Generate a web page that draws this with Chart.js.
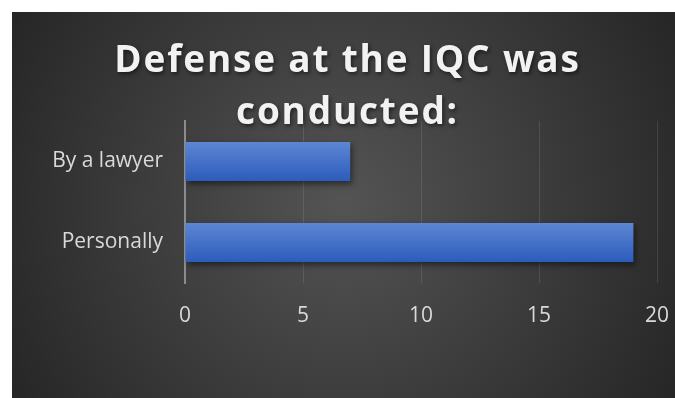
<!DOCTYPE html>
<html><head><meta charset="utf-8">
<script src="https://cdn.jsdelivr.net/npm/chart.js@4.4.0/dist/chart.umd.min.js"></script>
<style>
html,body{margin:0;padding:0;background:#fff;}
#wrap{position:absolute;left:12px;top:12px;width:663px;height:386px;background:radial-gradient(circle at 50% 50%, #545454 0%, #262626 100%);}
canvas{display:block;}
</style></head><body>
<div id="wrap"><canvas id="c" width="663" height="386"></canvas></div>
<script>
const titleLines = ['Defense at the IQC was', 'conducted:'];
const categories = ['By a lawyer', 'Personally'];
const values = [7, 19];
const xTickValues = [0, 5, 10, 15, 20];

const BAR_FRACTION = 0.48;

const titleStyle = {
  id: 'titleStyle',
  beforeDraw(chart) {
    const tb = chart.titleBlock;
    if (tb && !tb._patched) {
      const orig = tb.draw.bind(tb);
      tb.draw = function () {
        const c = chart.ctx;
        c.save();
        c.letterSpacing = '1.8px';
        c.shadowColor = 'rgba(0,0,0,0.55)';
        c.shadowBlur = 4;
        c.shadowOffsetX = 1.5;
        c.shadowOffsetY = 2;
        orig();
        c.restore();
      };
      tb._patched = true;
    }
  }
};

const barShadow = {
  id: 'barShadow',
  beforeDatasetsDraw(chart) {
    const c = chart.ctx;
    c.save();
    c.shadowColor = 'rgba(0,0,0,0.5)';
    c.shadowBlur = 6;
    c.shadowOffsetX = 2;
    c.shadowOffsetY = 3;
  },
  afterDatasetsDraw(chart) { chart.ctx.restore(); }
};

new Chart(document.getElementById('c'), {
  type: 'bar',
  data: {
    labels: categories,
    datasets: [{
      data: values,
      categoryPercentage: 1,
      barPercentage: BAR_FRACTION,
      borderWidth: 0,
      backgroundColor: (ctx) => {
        const chart = ctx.chart;
        const y = chart.scales && chart.scales.y;
        if (!y || !chart.chartArea || ctx.dataIndex === undefined) return '#4472c4';
        const c = y.getPixelForValue(ctx.dataIndex);
        const h = (y.bottom - y.top) / categories.length * BAR_FRACTION;
        if (!isFinite(c) || !isFinite(h)) return '#4472c4';
        const g = chart.ctx.createLinearGradient(0, c - h / 2, 0, c + h / 2);
        g.addColorStop(0, '#5d86d4');
        g.addColorStop(1, '#2c5cbb');
        return g;
      }
    }]
  },
  options: {
    indexAxis: 'y',
    responsive: false,
    animation: false,
    devicePixelRatio: 1,
    layout: { padding: { left: 26, right: 18, top: 0, bottom: 0 } },
    plugins: {
      legend: { display: false },
      tooltip: { enabled: false },
      title: {
        display: true,
        text: titleLines,
        color: '#f2f2f2',
        font: { family: '"Open Sans"', weight: 'bold', size: 37, lineHeight: 52 / 37 },
        padding: { top: 23, bottom: -18 }
      }
    },
    scales: {
      x: {
        min: 0, max: 20,
        afterBuildTicks: (s) => { s.ticks = xTickValues.map(v => ({ value: v })); },
        ticks: { color: '#d9d9d9', font: { family: '"Open Sans"', size: 21 }, padding: 20 },
        grid: { color: 'rgba(255,255,255,0.1)', lineWidth: 1, drawTicks: false },
        border: { display: false },
        afterFit: (s) => { s.height = 115; s.paddingLeft = 0; s.paddingRight = 0; }
      },
      y: {
        ticks: { color: '#d9d9d9', font: { family: '"Open Sans"', size: 21 }, padding: 22 },
        grid: { display: false, drawTicks: false },
        border: { display: true, color: '#8c8c8c', width: 2 },
        afterFit: (s) => { s.width = 147; s.paddingTop = 0; s.paddingBottom = 0; }
      }
    }
  },
  plugins: [titleStyle, barShadow]
});
</script>
</body></html>
